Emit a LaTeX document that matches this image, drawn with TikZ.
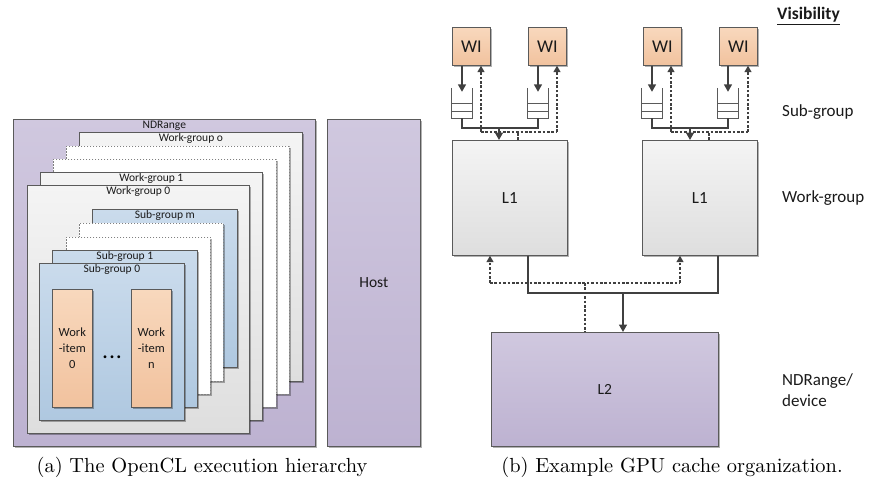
\documentclass[tikz,border=0pt]{standalone}
\usepackage{fontspec}
\newfontfamily\calib{Carlito}
\usetikzlibrary{arrows.meta,shadows,calc}

\definecolor{edgec}{HTML}{5A5A5A}
\definecolor{linec}{HTML}{404040}
\definecolor{txtc}{HTML}{1A1A1A}
\definecolor{purtop}{HTML}{D0C8DF}
\definecolor{purbot}{HTML}{BDB2D1}
\definecolor{grytop}{HTML}{F4F4F4}
\definecolor{grybot}{HTML}{DEDEDE}
\definecolor{blutop}{HTML}{CADBEC}
\definecolor{blubot}{HTML}{AFC8E0}
\definecolor{orgtop}{HTML}{F8D8BD}
\definecolor{orgbot}{HTML}{F1C29E}

\tikzset{
  shade/.style={drop shadow={shadow xshift=1.3pt, shadow yshift=-1.3pt, opacity=0.3, fill=black}},
  box/.style={draw=edgec, line width=0.7pt, inner sep=0pt, anchor=north west, shade},
  purplebox/.style={box, top color=purtop, bottom color=purbot},
  greybox/.style={box, top color=grytop, bottom color=grybot},
  bluebox/.style={box, top color=blutop, bottom color=blubot},
  orangebox/.style={box, top color=orgtop, bottom color=orgbot},
  ghostbox/.style={box, fill=white, dash pattern=on 1.8pt off 1.2pt, draw=gray},
  lbl/.style={font=\calib\fontsize{11.5}{13}\selectfont, text=txtc, inner sep=1.5pt, anchor=north},
  midlbl/.style={font=\calib\fontsize{15.5}{18}\selectfont, text=txtc},
  wilbl/.style={font=\calib\fontsize{12.5}{15.7}\selectfont, text=txtc, align=center},
  rlbl/.style={font=\calib\fontsize{17}{21}\selectfont, text=txtc, inner sep=0pt},
  caption/.style={font=\fontsize{10}{12}\selectfont, scale=2.04, inner sep=0pt},
  stack/.style={fill=white, inner sep=0pt, minimum width=20pt, minimum height=30pt, shade},
  qline/.style={draw=edgec, line width=0.7pt},
  conn/.style={draw=linec, line width=1.6pt},
  dconn/.style={draw=linec, line width=1.5pt, dash pattern=on 2.6pt off 1.8pt},
  tip/.style={-{Triangle[length=7.5pt,width=8pt]}},
  dtip/.style={-{Triangle[length=6.5pt,width=7pt]}},
}

% a small FIFO buffer: open top, two internal slots
\newcommand\fifostack[2]{%
  \node[stack] (#1) at (#2) {};
  \draw[qline] (#1.north west) -- (#1.south west) -- (#1.south east) -- (#1.north east);
  \draw[qline] ($(#1.south west)!0.5!(#1.north west)$) -- ($(#1.south east)!0.5!(#1.north east)$);
  \draw[qline] ($(#1.south west)!0.24!(#1.north west)$) -- ($(#1.south east)!0.24!(#1.north east)$);
}

\begin{document}
\begin{tikzpicture}[x=1pt, y=-1pt]
\path[use as bounding box] (0,0) rectangle (875,485);

% ---------------- (a) execution hierarchy ----------------
\node[purplebox, minimum width=302pt, minimum height=327pt] (nd) at (13,119) {};
\node[lbl] (ndl) at (nd.north) {NDRange};

\node[greybox, minimum width=223pt, minimum height=249pt] (wgo) at (79,132) {};
\node[lbl] (wgol) at (wgo.north) {Work-group o};
\node[ghostbox, minimum width=223pt, minimum height=248pt] (wgd1) at (66,146) {};
\node[ghostbox, minimum width=223pt, minimum height=248pt] (wgd2) at (53,159) {};
\node[greybox, minimum width=222pt, minimum height=248pt] (wg1) at (40,172) {};
\node[lbl] (wg1l) at (wg1.north) {Work-group 1};
\node[greybox, minimum width=222pt, minimum height=248pt] (wg0) at (27,185) {};
\node[lbl] (wg0l) at (wg0.north) {Work-group 0};

\node[bluebox, minimum width=145pt, minimum height=158pt] (sgm) at (92,209) {};
\node[lbl] (sgml) at (sgm.north) {Sub-group m};
\node[ghostbox, minimum width=144pt, minimum height=158pt] (sgd1) at (79,223) {};
\node[ghostbox, minimum width=144pt, minimum height=157pt] (sgd2) at (66,237) {};
\node[bluebox, minimum width=145pt, minimum height=157pt] (sg1) at (52,250) {};
\node[lbl] (sg1l) at (sg1.north) {Sub-group 1};
\node[bluebox, minimum width=145pt, minimum height=157pt] (sg0) at (39,263) {};
\node[lbl] (sg0l) at (sg0.north) {Sub-group 0};

\node[orangebox, minimum width=40pt, minimum height=118pt] (wi0) at (52,289) {};
\node[wilbl] (wi0l) at (wi0.center) {Work\\-item\\0};
\node[orangebox, minimum width=40pt, minimum height=118pt] (win) at (131,289) {};
\node[wilbl] (winl) at (win.center) {Work\\-item\\n};
\node[font=\calib\fontsize{8}{9}\selectfont, text=black, inner sep=0pt] (dots) at (112,358)
  {\textbullet\hspace{3pt}\textbullet\hspace{3pt}\textbullet};

\node[purplebox, minimum width=93pt, minimum height=327pt] (host) at (327,119) {};
\node[midlbl] (hostl) at (host.center) {Host};

\node[caption] (capa) at (202,467) {(a) The OpenCL execution hierarchy};

% ---------------- (b) cache organization ----------------
\foreach \nm/\xx in {wia/452, wib/528, wic/643, wid/719}{
  \node[orangebox, minimum width=38pt, minimum height=38pt] (\nm) at (\xx,27) {};
  \node[font=\calib\fontsize{18}{21}\selectfont, text=txtc] (\nm l) at (\nm.center) {WI};
}

\fifostack{qa}{462,103}
\fifostack{qb}{538,103}
\fifostack{qc}{652,103}
\fifostack{qd}{728,103}

\node[greybox, minimum width=115pt, minimum height=115pt] (lone) at (452,140) {};
\node[midlbl, font=\calib\fontsize{17}{20}\selectfont] (lonel) at (lone.center) {L1};
\node[greybox, minimum width=115pt, minimum height=115pt] (ltwo) at (642,140) {};
\node[midlbl, font=\calib\fontsize{17}{20}\selectfont] (ltwol) at (ltwo.center) {L1};

\node[purplebox, minimum width=227pt, minimum height=114pt] (lii) at (491,332) {};
\node[midlbl] (liil) at (lii.center) {L2};

% bus junctions
\coordinate (ja) at (499,128);
\coordinate (jb) at (690,128);
\coordinate (ka) at (518,132);
\coordinate (kb) at (709,132);
\coordinate (da) at (481,132);
\coordinate (db) at (557,132);
\coordinate (dc) at (671,132);
\coordinate (dd) at (748,132);
\coordinate (sa) at (528,293);
\coordinate (sb) at (718,293);
\coordinate (sm) at (623,293);
\coordinate (ta) at (490,283);
\coordinate (tb) at (680,283);
\coordinate (tm) at (585,283);

% visibility (dashed) paths back up
\draw[dconn] (da) -- (db);
\draw[dconn] (dc) -- (dd);
\draw[dconn] (ka |- lone.north) -- (ka);
\draw[dconn] (kb |- ltwo.north) -- (kb);
\draw[dconn, dtip] (da) -- (da |- wia.south);
\draw[dconn, dtip] (db) -- (db |- wib.south);
\draw[dconn, dtip] (dc) -- (dc |- wic.south);
\draw[dconn, dtip] (dd) -- (dd |- wid.south);
\draw[dconn] (ta) -- (tb);
\draw[dconn] (tm) -- (tm |- lii.north);
\draw[dconn, dtip] (ta) -- (ta |- lone.south);
\draw[dconn, dtip] (tb) -- (tb |- ltwo.south);

% write (solid) paths down
\foreach \w/\q in {wia/qa, wib/qb, wic/qc, wid/qd}{
  \draw[conn, tip] (\q |- \w.south) -- ([yshift=-4pt]\q.north);
}
\draw[conn] (qa.south) -- (qa.south |- ja) -- (qb.south |- ja) -- (qb.south);
\draw[conn] (qc.south) -- (qc.south |- jb) -- (qd.south |- jb) -- (qd.south);
\draw[conn, tip] (ja) -- (ja |- lone.north);
\draw[conn, tip] (jb) -- (jb |- ltwo.north);
\draw[conn] (sa |- lone.south) -- (sa) -- (sb) -- (sb |- ltwo.south);
\draw[conn, tip] (sm) -- (sm |- lii.north);

% level labels
\node[rlbl, anchor=west, font=\calib\bfseries\fontsize{17.5}{20}\selectfont] (vis) at (777,16) {\underline{Visibility}};
\node[rlbl, anchor=west] (lsg) at (782,112) {Sub-group};
\node[rlbl, anchor=west] (lwg) at (782,198) {Work-group};
\node[rlbl, anchor=west, align=left] (lnd) at (782,390) {NDRange/\\device};

\node[caption] (capb) at (672,467) {(b) Example GPU cache organization.};
\end{tikzpicture}
\end{document}
